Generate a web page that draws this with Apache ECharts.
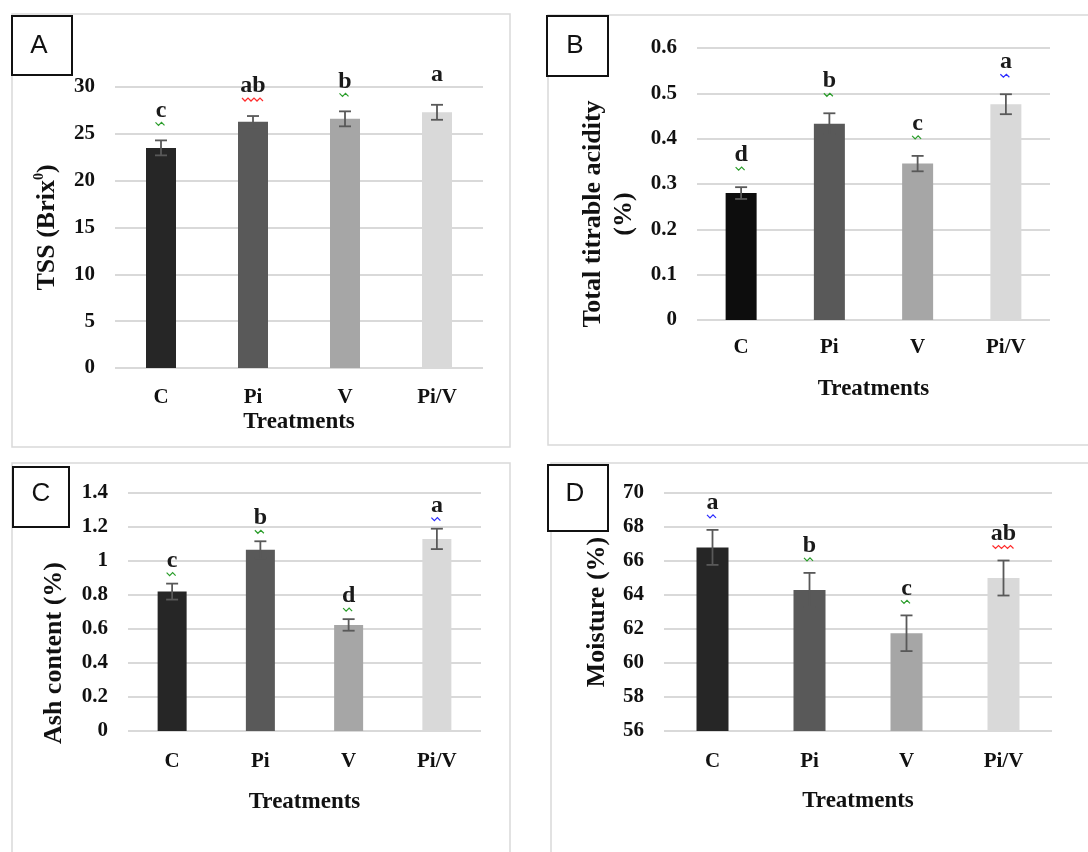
<!DOCTYPE html>
<html>
<head>
<meta charset="utf-8">
<script src="https://cdn.jsdelivr.net/npm/echarts@6.0.0/dist/echarts.min.js"></script>
<style>
  html, body { margin: 0; padding: 0; background: #fff; }
  #chart { width: 1088px; height: 852px; }
</style>
</head>
<body>
<div id="chart"></div>
<script>
// treatments
const categories = ['C', 'Pi', 'V', 'Pi/V']

// A - TSS
const tssValues = [23.5, 26.3, 26.6, 27.3]
const tssErrors = [0.8, 0.6, 0.8, 0.8]
const tssLetters = ['c', 'ab', 'b', 'a']

// B - total titrable acidity
const acidityValues = [0.28, 0.433, 0.345, 0.476]
const acidityErrors = [0.013, 0.023, 0.017, 0.022]
const acidityLetters = ['d', 'b', 'c', 'a']

// C - ash content
const ashValues = [0.82, 1.066, 0.624, 1.13]
const ashErrors = [0.047, 0.05, 0.034, 0.06]
const ashLetters = ['c', 'b', 'd', 'a']

// D - moisture
const moistureValues = [66.8, 64.3, 61.75, 65.0]
const moistureErrors = [1.03, 1.0, 1.05, 1.03]
const moistureLetters = ['a', 'b', 'c', 'ab']

const serif = '"Liberation Serif", "Times New Roman", serif'
const sans = '"Liberation Sans", Arial, sans-serif'
const greys = ['#262626', '#595959', '#a6a6a6', '#d9d9d9']
const greysB = ['#0d0d0d', '#595959', '#a6a6a6', '#d9d9d9']
const squiggle = { a: '#2b2bff', ab: '#ff2b2b', b: '#2a9d2a', c: '#2a9d2a', d: '#2a9d2a' }

const panels = [
    { name: 'TSS (Brix{sup|0})', values: tssValues, errors: tssErrors, letters: tssLetters,
      min: 0, max: 30, interval: 5, colors: greys, barWidth: 30, letterGap: 30,
      grid: { left: 115, top: 87, width: 368, height: 281 },
      nameGap: 52, namePad: 0, labelMargin: 19, xNameGap: 43, squiggle: [true, true, true, false] },
    { name: 'Total titrable acidity\n(%)', values: acidityValues, errors: acidityErrors, letters: acidityLetters,
      min: 0, max: 0.6, interval: 0.1, colors: greysB, barWidth: 31, letterGap: 32,
      grid: { left: 697, top: 48, width: 353, height: 272 },
      nameGap: 57, namePad: 60, labelMargin: 17, xNameGap: 58, squiggle: [true, true, true, true] },
    { name: 'Ash content (%)', values: ashValues, errors: ashErrors, letters: ashLetters,
      min: 0, max: 1.4, interval: 0.2, colors: greys, barWidth: 29, letterGap: 23,
      grid: { left: 128, top: 493, width: 353, height: 238 },
      nameGap: 58, namePad: 82, labelMargin: 20, xNameGap: 60, squiggle: [true, true, true, true] },
    { name: 'Moisture (%)', values: moistureValues, errors: moistureErrors, letters: moistureLetters,
      min: 56, max: 70, interval: 2, colors: greys, barWidth: 32, letterGap: 27,
      grid: { left: 664, top: 493, width: 388, height: 238 },
      nameGap: 51, namePad: 0, labelMargin: 20, xNameGap: 59, squiggle: [true, true, true, true] }
]

function errorBarRenderer(panel) {
    return function (params, api) {
        const i = api.value(0)
        const v = api.value(1)
        const e = api.value(2)
        const hi = api.coord([i, v + e])
        const lo = api.coord([i, v - e])
        const x = hi[0]
        const style = { stroke: '#595959', lineWidth: 1.8 }
        const letter = panel.letters[i]
        const ty = hi[1] - panel.letterGap
        const children = [
            { type: 'line', shape: { x1: x, y1: hi[1], x2: x, y2: lo[1] }, style },
            { type: 'line', shape: { x1: x - 6, y1: hi[1], x2: x + 6, y2: hi[1] }, style },
            { type: 'line', shape: { x1: x - 6, y1: lo[1], x2: x + 6, y2: lo[1] }, style },
            { type: 'text', x: x, y: ty,
              style: { text: letter, fill: '#1a1a1a', font: 'bold 24px ' + serif,
                       textAlign: 'center', textVerticalAlign: 'middle' } }
        ]
        if (panel.squiggle[i]) {
            const w = letter.length > 1 ? 22 : 11
            const pts = []
            for (let k = 0; k <= w; k += 3) {
                pts.push([x - w / 2 + k, ty + 12 + ((k / 3) % 2 ? 3 : 0)])
            }
            children.push({ type: 'polyline', shape: { points: pts },
                            style: { stroke: squiggle[letter], lineWidth: 1.2, fill: null } })
        }
        return { type: 'group', children }
    }
}

const option = {
    animation: false,
    backgroundColor: '#fff',
    grid: panels.map(p => p.grid),
    xAxis: panels.map((p, i) => ({
        type: 'category',
        gridIndex: i,
        data: categories,
        axisLine: { show: false },
        axisTick: { show: false },
        axisLabel: { margin: p.labelMargin, color: '#111', fontFamily: serif, fontWeight: 'bold', fontSize: 21 },
        name: 'Treatments',
        nameLocation: 'middle',
        nameGap: p.xNameGap,
        nameTextStyle: { color: '#111', fontFamily: serif, fontWeight: 'bold', fontSize: 23 }
    })),
    yAxis: panels.map((p, i) => ({
        type: 'value',
        gridIndex: i,
        min: p.min,
        max: p.max,
        interval: p.interval,
        axisLine: { show: false },
        axisTick: { show: false },
        splitLine: { lineStyle: { color: '#d9d9d9', width: 2 } },
        axisLabel: { margin: 20, color: '#111', fontFamily: serif, fontWeight: 'bold', fontSize: 21 },
        name: p.name,
        nameLocation: 'middle',
        nameRotate: 90,
        nameGap: p.nameGap,
        nameTextStyle: {
            color: '#111', fontFamily: serif, fontWeight: 'bold', fontSize: 26,
            lineHeight: 31, padding: [0, p.namePad, 0, 0],
            rich: {
                sup: { color: '#111', fontFamily: serif, fontWeight: 'bold', fontSize: 14,
                       lineHeight: 31, verticalAlign: 'top' }
            }
        }
    })),
    series: panels.flatMap((p, i) => [
        {
            type: 'bar',
            xAxisIndex: i,
            yAxisIndex: i,
            barWidth: p.barWidth,
            data: p.values.map((v, j) => ({ value: v, itemStyle: { color: p.colors[j] } }))
        },
        {
            type: 'custom',
            xAxisIndex: i,
            yAxisIndex: i,
            z: 3,
            renderItem: errorBarRenderer(p),
            data: p.values.map((v, j) => [j, v, p.errors[j]])
        }
    ]),
    graphic: [
        // panel frames
        { type: 'rect', shape: { x: 12, y: 14, width: 498, height: 433 }, style: { fill: null, stroke: '#d9d9d9', lineWidth: 1.5 }, silent: true },
        { type: 'rect', shape: { x: 548, y: 15, width: 560, height: 430 }, style: { fill: null, stroke: '#d9d9d9', lineWidth: 1.5 }, silent: true },
        { type: 'rect', shape: { x: 12, y: 463, width: 498, height: 420 }, style: { fill: null, stroke: '#d9d9d9', lineWidth: 1.5 }, silent: true },
        { type: 'rect', shape: { x: 551, y: 463, width: 560, height: 420 }, style: { fill: null, stroke: '#d9d9d9', lineWidth: 1.5 }, silent: true },
        // panel tags
        { type: 'group', children: [
            { type: 'rect', shape: { x: 12, y: 16, width: 60, height: 59 }, style: { fill: '#fff', stroke: '#111', lineWidth: 2 } },
            { type: 'text', x: 39, y: 46, style: { text: 'A', font: '26px ' + sans, fill: '#111', textAlign: 'center', textVerticalAlign: 'middle' } },
            { type: 'rect', shape: { x: 547, y: 16, width: 61, height: 60 }, style: { fill: '#fff', stroke: '#111', lineWidth: 2 } },
            { type: 'text', x: 575, y: 46, style: { text: 'B', font: '26px ' + sans, fill: '#111', textAlign: 'center', textVerticalAlign: 'middle' } },
            { type: 'rect', shape: { x: 13, y: 467, width: 56, height: 60 }, style: { fill: '#fff', stroke: '#111', lineWidth: 2 } },
            { type: 'text', x: 41, y: 494, style: { text: 'C', font: '26px ' + sans, fill: '#111', textAlign: 'center', textVerticalAlign: 'middle' } },
            { type: 'rect', shape: { x: 548, y: 465, width: 60, height: 66 }, style: { fill: '#fff', stroke: '#111', lineWidth: 2 } },
            { type: 'text', x: 575, y: 494, style: { text: 'D', font: '26px ' + sans, fill: '#111', textAlign: 'center', textVerticalAlign: 'middle' } }
        ] }
    ]
}

const chart = echarts.init(document.getElementById('chart'))
chart.setOption(option)
</script>
</body>
</html>
